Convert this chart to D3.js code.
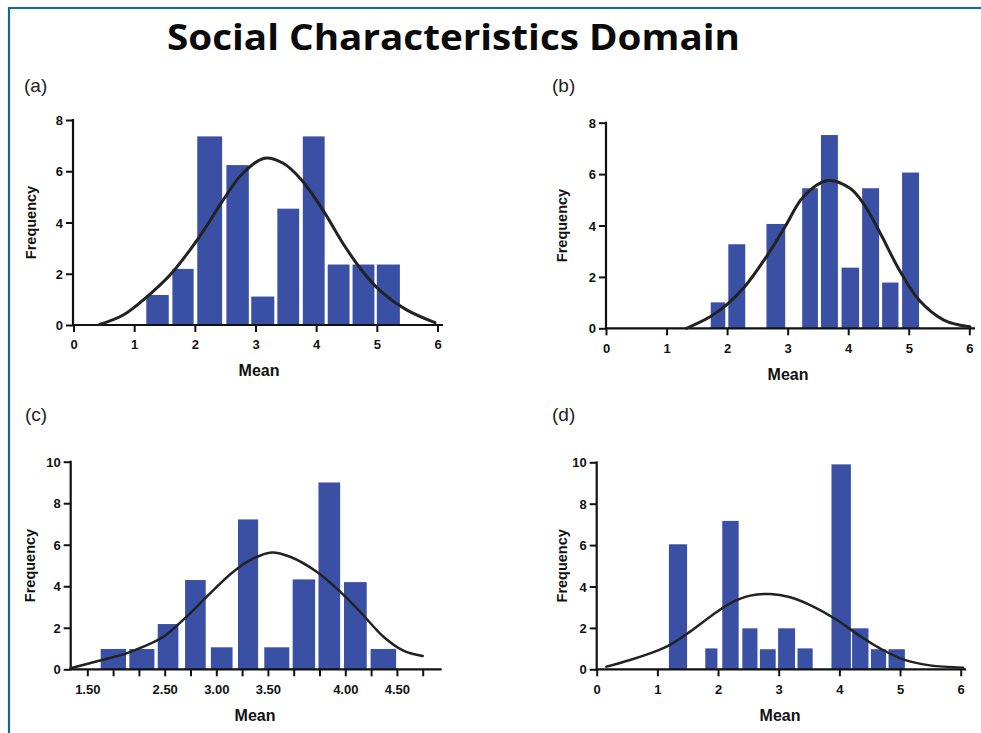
<!DOCTYPE html>
<html>
<head>
<meta charset="utf-8">
<script src="https://cdn.jsdelivr.net/npm/d3@7"></script>
<style>
  body { margin: 0; background: #fff; }
  svg { display: block; }
  .tick text { font-family: "Liberation Sans", Arial, sans-serif; font-weight: bold; font-size: 13px; fill: #111; }
  .tick line { stroke: #111; stroke-width: 2; }
</style>
</head>
<body>
<div id="chart"></div>
<script>
// ---- data ----
// (a)
const aBinStart = [1.20, 1.63, 2.04, 2.52, 2.93, 3.36, 3.78, 4.19, 4.60, 5.00];
const aBinEnd   = [1.57, 1.98, 2.45, 2.89, 3.31, 3.72, 4.14, 4.55, 4.96, 5.38];
const aCounts   = [1.17, 2.19, 7.36, 6.24, 1.11, 4.54, 7.36, 2.36, 2.36, 2.36];
const aCurveX = [0.43, 0.82, 1.20, 1.61, 2.00, 2.19, 2.46, 2.79, 3.15, 3.45, 3.76, 4.11, 4.44, 4.77, 5.10, 5.49, 5.96];
const aCurveY = [0.02, 0.39, 1.08, 2.00, 3.19, 3.85, 4.85, 5.92, 6.51, 6.32, 5.66, 4.49, 3.19, 2.08, 1.24, 0.59, 0.09];

// (b)
const bBinStart = [1.73, 2.02, 2.65, 3.24, 3.55, 3.89, 4.23, 4.56, 4.89];
const bBinEnd   = [1.97, 2.30, 2.96, 3.50, 3.83, 4.18, 4.51, 4.83, 5.17];
const bCounts   = [1.01, 3.27, 4.06, 5.45, 7.52, 2.36, 5.45, 1.78, 6.06];
const bCurveX = [1.33, 1.72, 1.99, 2.29, 2.65, 2.96, 3.26, 3.66, 4.03, 4.25, 4.53, 4.83, 5.17, 5.58, 6.01];
const bCurveY = [0.00, 0.45, 0.91, 1.62, 2.79, 3.96, 5.12, 5.75, 5.45, 4.86, 3.70, 2.33, 1.10, 0.32, 0.06];

// (c)  x positions are in tick-slot units (ticks sit at slots 1..14)
const cTickLabels = ["1.50", "", "", "2.50", "", "3.00", "", "3.50", "", "", "4.00", "", "4.50", ""];
const cBinStart = [1.52, 2.63, 3.73, 4.79, 5.79, 6.84, 7.86, 8.96, 9.96, 10.95, 11.98];
const cBinEnd   = [2.50, 3.60, 4.53, 5.59, 6.63, 7.62, 8.83, 9.83, 10.80, 11.83, 12.97];
const cCounts   = [0.98, 0.98, 2.18, 4.30, 1.06, 7.22, 1.06, 4.33, 9.00, 4.20, 0.98];
const cCurveX = [0.35, 1.49, 2.52, 3.17, 3.95, 4.85, 5.63, 6.66, 7.44, 8.15, 8.86, 9.89, 10.80, 11.57, 12.48, 13.25, 14.0];
const cCurveY = [0.05, 0.42, 0.77, 1.09, 1.57, 2.54, 3.50, 4.70, 5.34, 5.63, 5.42, 4.70, 3.74, 2.78, 1.57, 0.90, 0.64];

// (d)
const dBinStart = [1.19, 1.79, 2.07, 2.40, 2.69, 2.99, 3.31, 3.87, 4.21, 4.52, 4.81];
const dBinEnd   = [1.49, 1.99, 2.34, 2.65, 2.95, 3.27, 3.56, 4.19, 4.48, 4.77, 5.08];
const dCounts   = [6.04, 1.01, 7.17, 1.98, 0.97, 1.98, 1.01, 9.90, 1.98, 0.97, 0.97];
const dCurveX = [0.16, 0.55, 0.99, 1.21, 1.54, 1.87, 2.20, 2.53, 2.86, 3.19, 3.57, 3.96, 4.34, 4.67, 5.05, 5.49, 6.04];
const dCurveY = [0.13, 0.45, 0.89, 1.18, 1.82, 2.54, 3.19, 3.56, 3.64, 3.48, 3.03, 2.38, 1.61, 1.01, 0.48, 0.19, 0.08];

const intTicks = [0, 1, 2, 3, 4, 5, 6];

// ---- layout ----
const W = 981, H = 733;
const barColor = "#3a50a4";
const font = "'Liberation Sans', Arial, sans-serif";
const svg = d3.select("#chart").append("svg").attr("width", W).attr("height", H);

// frame lines (top + left)
svg.append("line").attr("x1", 8).attr("x2", W).attr("y1", 8).attr("y2", 8)
  .attr("stroke", "#0f6b96").attr("stroke-width", 2.2);
svg.append("line").attr("x1", 9).attr("x2", 9).attr("y1", 7).attr("y2", H)
  .attr("stroke", "#0f6b96").attr("stroke-width", 2.2);

svg.append("text")
  .attr("x", 167).attr("y", 50)
  .attr("textLength", 573).attr("lengthAdjust", "spacingAndGlyphs")
  .style("font-family", "'Open Sans', sans-serif").style("font-weight", 700).style("font-size", "36px")
  .attr("fill", "#0a0a0a")
  .text("Social Characteristics Domain");

const panels = [
  { tag: "(a)", tagX: 24, tagY: 92, axisX: 73, y0: 325, yTop: 120, yMax: 8, yTicks: [0, 2, 4, 6, 8],
    xDom: [0, 6], xRange: [73.5, 437.5], xEnd: 443, xTicks: intTicks, xFmt: d => d,
    starts: aBinStart, ends: aBinEnd, counts: aCounts, cx: aCurveX, cy: aCurveY, lw: 3,
    freqX: 31, meanX: 259, meanY: 376 },
  { tag: "(b)", tagX: 552, tagY: 92, axisX: 606, y0: 328.3, yTop: 122.7, yMax: 8, yTicks: [0, 2, 4, 6, 8],
    xDom: [0, 6], xRange: [606, 969.3], xEnd: 975, xTicks: intTicks, xFmt: d => d,
    starts: bBinStart, ends: bBinEnd, counts: bCounts, cx: bCurveX, cy: bCurveY, lw: 3,
    freqX: 562, meanX: 788, meanY: 380 },
  { tag: "(c)", tagX: 25, tagY: 421, axisX: 70.7, y0: 669.3, yTop: 461.7, yMax: 10, yTicks: [0, 2, 4, 6, 8, 10],
    xDom: [1, 14], xRange: [87.3, 422.7], xEnd: 441.7, xTicks: d3.range(1, 15), xFmt: d => cTickLabels[d - 1],
    starts: cBinStart, ends: cBinEnd, counts: cCounts, cx: cCurveX, cy: cCurveY, lw: 2.5,
    freqX: 30, meanX: 255, meanY: 721 },
  { tag: "(d)", tagX: 552, tagY: 421, axisX: 596.7, y0: 669.3, yTop: 462.3, yMax: 10, yTicks: [0, 2, 4, 6, 8, 10],
    xDom: [0, 6], xRange: [596.7, 960.7], xEnd: 966, xTicks: intTicks, xFmt: d => d,
    starts: dBinStart, ends: dBinEnd, counts: dCounts, cx: dCurveX, cy: dCurveY, lw: 2.5,
    freqX: 562, meanX: 780, meanY: 721 }
];

panels.forEach(p => {
  const x = d3.scaleLinear().domain(p.xDom).range(p.xRange);
  const y = d3.scaleLinear().domain([0, p.yMax]).range([p.y0, p.yTop]);
  const g = svg.append("g");

  g.append("text").attr("x", p.tagX).attr("y", p.tagY)
    .style("font-family", font).style("font-size", "19px")
    .attr("fill", "#222").text(p.tag);

  // bars
  g.selectAll("rect.bar")
    .data(p.counts.map((c, i) => ({ x0: p.starts[i], x1: p.ends[i], c })))
    .join("rect").attr("class", "bar")
    .attr("x", d => x(d.x0))
    .attr("width", d => x(d.x1) - x(d.x0))
    .attr("y", d => y(d.c))
    .attr("height", d => y(0) - y(d.c))
    .attr("fill", barColor);

  // axes
  const xAxis = d3.axisBottom(x).tickValues(p.xTicks).tickFormat(p.xFmt)
    .tickSize(7).tickSizeOuter(0).tickPadding(8);
  const gx = g.append("g").attr("transform", `translate(0,${p.y0})`).call(xAxis);
  gx.select(".domain").remove();

  const yAxis = d3.axisLeft(y).tickValues(p.yTicks).tickSize(7).tickSizeOuter(0).tickPadding(3);
  const gy = g.append("g").attr("transform", `translate(${p.axisX},0)`).call(yAxis);
  gy.select(".domain").remove();
  gy.selectAll(".tick text").attr("dy", "0.36em");

  g.append("line").attr("x1", p.axisX).attr("x2", p.xEnd).attr("y1", p.y0).attr("y2", p.y0)
    .attr("stroke", "#111").attr("stroke-width", 2.2);
  g.append("line").attr("x1", p.axisX).attr("x2", p.axisX).attr("y1", p.yTop - 1).attr("y2", p.y0 + 1)
    .attr("stroke", "#111").attr("stroke-width", 2.2);

  // fitted curve
  const line = d3.line().x(d => x(d[0])).y(d => y(d[1])).curve(d3.curveCatmullRom.alpha(0.5));
  g.append("path").datum(p.cx.map((v, i) => [v, p.cy[i]]))
    .attr("d", line).attr("fill", "none")
    .attr("stroke", "#222").attr("stroke-width", p.lw).attr("stroke-linecap", "round");

  // axis titles
  g.append("text")
    .attr("transform", `translate(${p.freqX},${(p.y0 + p.yTop) / 2}) rotate(-90)`)
    .attr("text-anchor", "middle").attr("dy", "0.35em")
    .style("font-family", font).style("font-weight", "bold").style("font-size", "14.5px")
    .attr("fill", "#111").text("Frequency");
  g.append("text").attr("x", p.meanX).attr("y", p.meanY).attr("text-anchor", "middle")
    .style("font-family", font).style("font-weight", "bold").style("font-size", "16px")
    .attr("fill", "#111").text("Mean");
});
</script>
</body>
</html>
